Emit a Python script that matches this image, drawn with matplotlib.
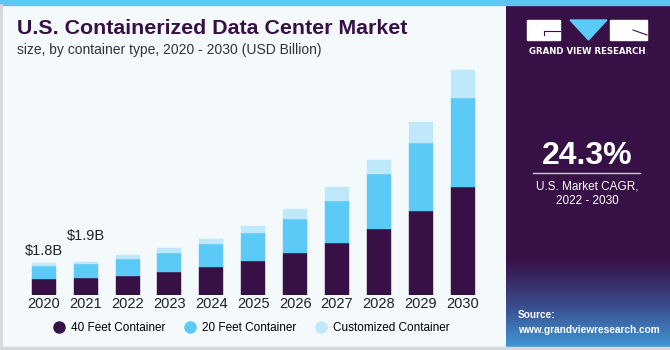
import matplotlib.pyplot as plt
import numpy as np
from matplotlib.lines import Line2D
from matplotlib.patches import Rectangle, Polygon

years = ["2020", "2021", "2022", "2023", "2024", "2025", "2026", "2027", "2028", "2029", "2030"]
feet40 = [0.90, 0.97, 1.10, 1.33, 1.60, 1.94, 2.42, 2.99, 3.75, 4.82, 6.19]
feet20 = [0.78, 0.80, 0.94, 1.09, 1.31, 1.60, 1.91, 2.40, 3.14, 3.87, 5.09]
custom = [0.14, 0.13, 0.25, 0.29, 0.30, 0.42, 0.59, 0.77, 0.82, 1.22, 1.58]
series_names = ["40 Feet Container", "20 Feet Container", "Customized Container"]
value_labels = {0: "$1.8B", 1: "$1.9B"}

purple = "#371146"
blue = "#5ccaf7"
light = "#bfe9fa"
bg = "#f4f9fc"

W, H = 670, 350
fig = plt.figure(figsize=(W / 100, H / 100), dpi=100)
fig.patch.set_facecolor(bg)


def px(x, y):
    # pixel (from top-left) -> figure fraction
    return (x / W, 1 - y / H)


# right panel, purple with a blue fade at the bottom
pan = fig.add_axes([506 / W, 0, 1 - 506 / W, 1])
pan.set_xlim(0, 1)
pan.set_ylim(0, H)
pan.axis("off")
grad = np.zeros((H, 2, 3))
top_c = np.array([0x37, 0x11, 0x46]) / 255
mid_c = np.array([0x3a, 0x4a, 0x8a]) / 255
bot_c = np.array([0x3f, 0x9c, 0xdc]) / 255
for r in range(H):
    if r > 90:
        grad[r] = top_c
    elif r > 45:
        t = (90 - r) / 45
        grad[r] = top_c * (1 - t) + mid_c * t
    else:
        t = (45 - r) / 45
        grad[r] = mid_c * (1 - t) + bot_c * t
pan.imshow(grad, extent=[0, 1, 0, H], origin="lower", aspect="auto")

# logo
fig.patches.append(Rectangle(px(527, 40), 33 / W, 20 / H, transform=fig.transFigure, color="white"))
fig.patches.append(Polygon([px(570, 20), px(607, 20), px(588.5, 40)], closed=True,
                           transform=fig.transFigure, color=blue))
fig.patches.append(Rectangle(px(610, 40), 37 / W, 20 / H, transform=fig.transFigure, color="white"))
fig.add_artist(Line2D([544 / W, 560 / W], [1 - 31 / H, 1 - 31 / H], color=purple, lw=0.8))
fig.add_artist(Line2D([544 / W, 544 / W], [1 - 31 / H, 1 - 35 / H], color=purple, lw=0.8))
fig.add_artist(Line2D([633 / W, 647 / W], [1 - 30 / H, 1 - 35 / H], color=purple, lw=0.8))
fig.text(587 / W, 1 - 51.5 / H, "GRAND VIEW RESEARCH", color="white", fontsize=6.2,
         fontweight="bold", ha="center", va="center", family="DejaVu Sans")

fig.text(587.5 / W, 1 - 156 / H, "24.3%", color="white", fontsize=23, fontweight="bold",
         ha="center", va="center", family="Liberation Sans")
fig.add_artist(Line2D([533 / W, 640 / W], [1 - 173 / H, 1 - 173 / H], color="#cfc6d6", lw=1))
fig.text(587 / W, 1 - 186 / H, "U.S. Market CAGR,", color="white", fontsize=8.5,
         ha="center", va="center", family="Liberation Sans")
fig.text(587 / W, 1 - 201 / H, "2022 - 2030", color="white", fontsize=8.5,
         ha="center", va="center", family="Liberation Sans")
fig.text(518 / W, 1 - 315 / H, "Source:", color="white", fontsize=7.3, fontweight="bold",
         ha="left", va="center", family="Liberation Sans")
fig.text(518 / W, 1 - 330 / H, "www.grandviewresearch.com", color="white", fontsize=7.3,
         fontweight="bold", ha="left", va="center", family="Liberation Sans")

# top stripe and border
fig.patches.append(Rectangle((0, 1 - 5 / H), 1, 5 / H, transform=fig.transFigure, color="#5cc8f2"))
fig.add_artist(Line2D([1 / W, 1 / W], [0, 1 - 5 / H], color="#d4d8da", lw=2))
fig.add_artist(Line2D([0, 1], [2 / H, 2 / H], color="#d4d8da", lw=2.5))

# titles
fig.text(17 / W, 1 - 29 / H, "U.S. Containerized Data Center Market", color=purple,
         fontsize=15.4, fontweight="bold", ha="left", va="center", family="Liberation Sans")
fig.text(17 / W, 1 - 50 / H, "size, by container type, 2020 - 2030 (USD Billion)", color="#333333",
         fontsize=10, ha="left", va="center", family="Liberation Sans")

# bars
ax = fig.add_axes([0, 55 / H, 506 / W, 1 - 55 / H])
ax.set_facecolor("none")
x = np.arange(len(years))
f40 = np.array(feet40)
f20 = np.array(feet20)
cu = np.array(custom)
bw = 24 / 41.9
ax.bar(x, f40, bw, color=purple, edgecolor=purple, lw=0.3)
ax.bar(x, f20, bw, bottom=f40, color=blue, edgecolor=blue, lw=0.3)
ax.bar(x, cu, bw, bottom=f40 + f20, color=light, edgecolor=light, lw=0.3)
ax.set_xlim(-43.7 / 41.9, (506 - 43.7) / 41.9)
ax.set_ylim(0, (H - 55) / 17.5)
ax.axis("off")
tot = f40 + f20 + cu
lab_gap = {0: 0.72, 1: 1.45}
for i, lab in value_labels.items():
    ax.text(x[i], tot[i] + lab_gap[i], lab, ha="center", va="center", fontsize=10.5,
            color="#222222", family="Liberation Sans")
for i, yr in enumerate(years):
    ax.text(x[i], -0.5, yr, ha="center", va="center", fontsize=10.5, color="#222222",
            family="Liberation Sans", clip_on=False)

handles = [Line2D([], [], marker="o", ls="", color=c, markersize=8)
           for c in [purple, blue, light]]
fig.legend(handles, series_names, loc="center", bbox_to_anchor=(251 / W, 1 - 328 / H),
           ncol=3, frameon=False, handletextpad=0.4, columnspacing=1.5, handlelength=1.2,
           prop={"family": "Liberation Sans", "size": 8.5})

fig.savefig("out.png", dpi=100, facecolor=bg)
